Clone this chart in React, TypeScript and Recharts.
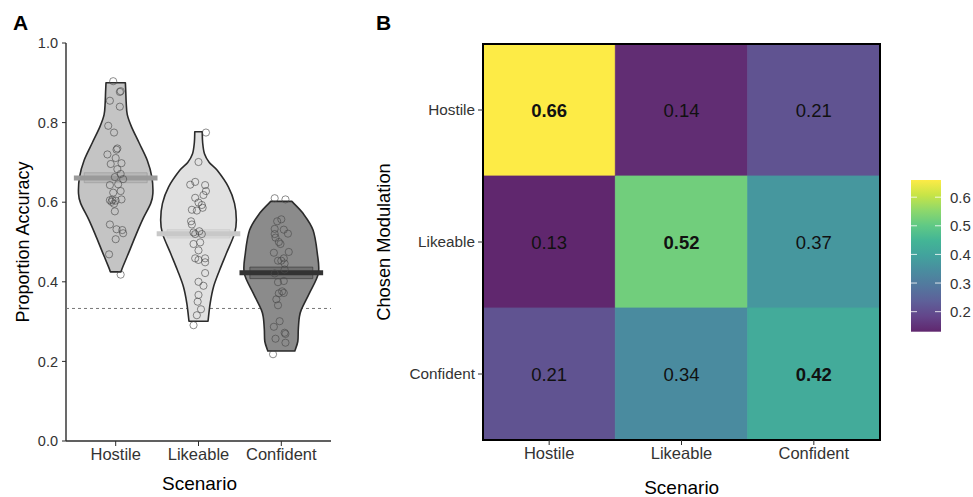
import React from "react";
import { ComposedChart, Scatter, XAxis, YAxis, ReferenceArea } from "recharts";

const scenarios = ["Hostile", "Likeable", "Confident"];
const modulations = ["Hostile", "Likeable", "Confident"];
const accuracyTicks = [0, 0.2, 0.4, 0.6, 0.8, 1.0];
const chanceLevel = 0.333;

const violinFills = ["#c4c4c4", "#e1e1e1", "#8b8b8b"];
const meanColors = ["#9a9a9a", "#c8c8c8", "#333333"];
const meanAccuracy = [0.661, 0.521, 0.423];
const ciLower = [0.649, 0.51, 0.408];
const ciUpper = [0.674, 0.531, 0.437];

// violin outlines: accuracy level -> half width (category units)
const hostileLevels = [0.425, 0.437, 0.472, 0.513, 0.555, 0.597, 0.622, 0.663, 0.705, 0.75, 0.79, 0.82, 0.85, 0.877, 0.9];
const hostileHalf = [0.064, 0.085, 0.155, 0.235, 0.322, 0.423, 0.449, 0.437, 0.382, 0.281, 0.19, 0.14, 0.127, 0.122, 0.117];
const likeableLevels = [0.301, 0.346, 0.387, 0.429, 0.471, 0.521, 0.555, 0.597, 0.638, 0.68, 0.7, 0.722, 0.75, 0.777];
const likeableHalf = [0.115, 0.141, 0.181, 0.254, 0.336, 0.435, 0.457, 0.435, 0.362, 0.226, 0.13, 0.072, 0.05, 0.045];
const confidentLevels = [0.226, 0.25, 0.28, 0.31, 0.33, 0.371, 0.421, 0.471, 0.53, 0.572, 0.602];
const confidentHalf = [0.163, 0.199, 0.205, 0.217, 0.242, 0.338, 0.447, 0.435, 0.383, 0.262, 0.127];

// participants: [jitter, accuracy]
const hostilePoints = [
  [-0.03, 0.904], [0.05, 0.877], [0.06, 0.879], [-0.07, 0.855], [0.05, 0.84], [-0.09, 0.792],
  [-0.02, 0.775], [0.01, 0.732], [0.02, 0.735], [-0.1, 0.72], [0.0, 0.711], [0.07, 0.698],
  [-0.06, 0.696], [0.02, 0.683], [0.06, 0.671], [-0.01, 0.663], [0.09, 0.658], [-0.07, 0.643],
  [0.03, 0.645], [0.06, 0.628], [-0.03, 0.624], [-0.07, 0.605], [-0.05, 0.601], [-0.04, 0.606],
  [0.0, 0.604], [0.07, 0.607], [-0.02, 0.596], [-0.01, 0.577], [-0.07, 0.544], [0.01, 0.532],
  [0.08, 0.53], [0.09, 0.522], [0.0, 0.507], [-0.08, 0.469], [0.06, 0.418],
];
const likeablePoints = [
  [0.09, 0.775], [0.0, 0.701], [-0.1, 0.644], [-0.04, 0.651], [0.08, 0.643], [0.09, 0.628],
  [0.06, 0.618], [-0.04, 0.611], [0.0, 0.599], [0.04, 0.593], [0.05, 0.586], [-0.08, 0.581],
  [-0.02, 0.579], [-0.09, 0.552], [-0.08, 0.544], [0.01, 0.527], [0.04, 0.52], [-0.04, 0.52],
  [-0.06, 0.524], [0.02, 0.499], [-0.06, 0.495], [0.0, 0.479], [-0.04, 0.459], [0.0, 0.455],
  [0.08, 0.459], [0.08, 0.449], [0.08, 0.422], [0.0, 0.4], [0.06, 0.39], [0.0, 0.367],
  [-0.01, 0.35], [0.03, 0.331], [-0.02, 0.316], [-0.06, 0.291],
];
const confidentPoints = [
  [-0.08, 0.61], [0.05, 0.607], [0.0, 0.557], [-0.05, 0.552], [-0.08, 0.533], [0.03, 0.531],
  [-0.08, 0.52], [0.08, 0.521], [-0.07, 0.511], [-0.03, 0.5], [-0.01, 0.495], [-0.09, 0.473],
  [0.09, 0.475], [0.03, 0.459], [0.0, 0.453], [-0.04, 0.453], [0.04, 0.446], [0.04, 0.431],
  [-0.08, 0.421], [0.03, 0.402], [-0.04, 0.399], [0.01, 0.376], [0.03, 0.372], [-0.03, 0.371],
  [-0.06, 0.356], [-0.04, 0.341], [-0.02, 0.301], [-0.09, 0.287], [0.04, 0.272], [0.05, 0.269],
  [-0.07, 0.257], [0.05, 0.247], [-0.1, 0.218],
];

// heatmap: rows = chosen modulation, columns = scenario
const hostileRow = [0.66, 0.14, 0.21];
const likeableRow = [0.13, 0.52, 0.37];
const confidentRow = [0.21, 0.34, 0.42];
const colorbarTicks = [0.2, 0.3, 0.4, 0.5, 0.6];
const colorMin = 0.13;
const colorMax = 0.66;

const viridisStops = ["#440154", "#482475", "#414487", "#355f8d", "#2a788e", "#21918c", "#22a884", "#44bf70", "#7ad151", "#bddf26", "#fde725"];

function hex(c: string) {
  return [1, 3, 5].map((i) => parseInt(c.slice(i, i + 2), 16));
}

function fillFor(v: number) {
  const t = Math.max(0, Math.min(1, (v - colorMin) / (colorMax - colorMin)));
  const s = t * 10;
  const i = Math.min(9, Math.floor(s));
  const f = s - i;
  const a = hex(viridisStops[i]);
  const b = hex(viridisStops[i + 1]);
  const alpha = 0.85;
  const rgb = a.map((x, k) => Math.round((x + (b[k] - x) * f) * alpha + 255 * (1 - alpha)));
  return `rgb(${rgb.join(",")})`;
}

const violins = [
  { levels: hostileLevels, half: hostileHalf, points: hostilePoints },
  { levels: likeableLevels, half: likeableHalf, points: likeablePoints },
  { levels: confidentLevels, half: confidentHalf, points: confidentPoints },
];

function outline(center: number, levels: number[], half: number[]) {
  const right = levels.map((y, i) => ({ x: center + half[i], y }));
  const left = levels.map((y, i) => ({ x: center - half[i], y })).reverse();
  return [...right, ...left];
}

type Pt = { x: number; y: number };

function smooth(pts: Pt[]) {
  let d = "";
  for (let i = 0; i < pts.length - 1; i++) {
    const p0 = pts[Math.max(0, i - 1)];
    const p1 = pts[i];
    const p2 = pts[i + 1];
    const p3 = pts[Math.min(pts.length - 1, i + 2)];
    const c1x = p1.x + (p2.x - p0.x) / 6;
    const c1y = p1.y + (p2.y - p0.y) / 6;
    const c2x = p2.x - (p3.x - p1.x) / 6;
    const c2y = p2.y - (p3.y - p1.y) / 6;
    d += ` C${c1x},${c1y} ${c2x},${c2y} ${p2.x},${p2.y}`;
  }
  return d;
}

const violinShape = (fill: string) => (props: any) => {
  const pts: Pt[] = props.points;
  const n = pts.length / 2;
  const right = pts.slice(0, n);
  const left = pts.slice(n);
  const d = `M${right[0].x},${right[0].y}${smooth(right)} L${left[0].x},${left[0].y}${smooth(left)} Z`;
  return <path d={d} fill={fill} stroke="#2b2b2b" strokeWidth={1.6} strokeLinejoin="round" />;
};

const boxShape = (color: string) => (props: any) => {
  const pts: Pt[] = props.points;
  const d = pts.map((p, i) => `${i ? "L" : "M"}${p.x},${p.y}`).join(" ") + " Z";
  return <path d={d} fill={color} fillOpacity={0.3} stroke={color} strokeOpacity={0.6} strokeWidth={1} />;
};

const noDot = () => <g />;

const ring = (props: any) => (
  <circle cx={props.cx} cy={props.cy} r={3.6} fill="none" stroke="#4a4a4a" strokeOpacity={0.7} strokeWidth={0.9} />
);

const cellText = (bold: boolean) => ({
  position: "center" as const,
  fontSize: 18.5,
  fontWeight: bold ? 700 : 400,
  fill: "#111",
});

function Title({ x, y, text, size = 19, rotate = false, bold = false }: any) {
  return (
    <div
      style={{
        position: "absolute",
        left: x,
        top: y,
        transform: `translate(-50%, -50%)${rotate ? " rotate(-90deg)" : ""}`,
        fontSize: size,
        fontWeight: bold ? 700 : 400,
        whiteSpace: "nowrap",
        lineHeight: 1,
        color: "#000",
      }}
    >
      {text}
    </div>
  );
}

function ColorBar() {
  const top = 180;
  const bottom = 331.7;
  const pos = (v: number) => bottom - ((v - colorMin) / (colorMax - colorMin)) * (bottom - top);
  const stops = viridisStops.map((_, i) => colorMin + ((colorMax - colorMin) * i) / 10);
  return (
    <svg width={973} height={497} style={{ position: "absolute", left: 0, top: 0, pointerEvents: "none" }}>
      <defs>
        <linearGradient id="vir" x1="0" y1="1" x2="0" y2="0">
          {stops.map((v, i) => (
            <stop key={i} offset={i / 10} stopColor={fillFor(v)} />
          ))}
        </linearGradient>
      </defs>
      <rect x={911} y={top} width={30} height={bottom - top} fill="url(#vir)" />
      {colorbarTicks.map((t) => (
        <g key={t}>
          <line x1={911} x2={917} y1={pos(t)} y2={pos(t)} stroke="#fff" strokeOpacity={0.8} strokeWidth={1} />
          <line x1={935} x2={941} y1={pos(t)} y2={pos(t)} stroke="#fff" strokeOpacity={0.8} strokeWidth={1} />
          <text x={950} y={pos(t)} dominantBaseline="central" fontSize={15} fill="#333">
            {t.toFixed(1)}
          </text>
        </g>
      ))}
    </svg>
  );
}

export default function App() {
  const heatRows = [hostileRow, likeableRow, confidentRow];
  const cellCenters = heatRows.flatMap((row, r) => row.map((v, c) => ({ x: c + 0.5, y: r + 0.5, v })));
  return (
    <div
      style={{
        position: "absolute",
        left: 0,
        top: 0,
        width: 973,
        height: 497,
        background: "#fff",
        fontFamily: "'Liberation Sans', Arial, sans-serif",
      }}
    >
      <div style={{ position: "absolute", left: 0, top: 0 }}>
        <ComposedChart width={340} height={497} margin={{ top: 43, right: 9, left: 30, bottom: 26 }}>
          <XAxis
            type="number"
            dataKey="x"
            domain={[0.4, 3.6]}
            ticks={[1, 2, 3]}
            interval={0}
            allowDataOverflow
            tickFormatter={(v: number) => scenarios[v - 1]}
            height={30}
            tickSize={5}
            tickMargin={2}
            tick={{ fill: "#333", fontSize: 16.5 }}
            axisLine={{ stroke: "#2b2b2b", strokeWidth: 1.4 }}
            tickLine={{ stroke: "#2b2b2b" }}
          />
          <YAxis
            type="number"
            dataKey="y"
            domain={[0, 1]}
            ticks={accuracyTicks}
            interval={0}
            allowDataOverflow
            tickFormatter={(v: number) => v.toFixed(1)}
            width={36}
            tickSize={4}
            tickMargin={4}
            tick={{ fill: "#333", fontSize: 14.5 }}
            axisLine={{ stroke: "#2b2b2b", strokeWidth: 1.4 }}
            tickLine={{ stroke: "#2b2b2b" }}
          />
          <Scatter
            data={[{ x: 0.4, y: chanceLevel }, { x: 3.6, y: chanceLevel }]}
            line={{ stroke: "#777", strokeDasharray: "3 3", strokeWidth: 1 }}
            shape={noDot}
            isAnimationActive={false}
          />
          {violins.map((v, i) => (
            <Scatter
              key={`v${i}`}
              data={outline(i + 1, v.levels, v.half)}
              line={violinShape(violinFills[i])}
              shape={noDot}
              isAnimationActive={false}
            />
          ))}
          {violins.map((_, i) => (
            <Scatter
              key={`ci${i}`}
              data={[
                { x: i + 1 - 0.38, y: ciLower[i] },
                { x: i + 1 + 0.38, y: ciLower[i] },
                { x: i + 1 + 0.38, y: ciUpper[i] },
                { x: i + 1 - 0.38, y: ciUpper[i] },
              ]}
              line={boxShape(meanColors[i])}
              shape={noDot}
              isAnimationActive={false}
            />
          ))}
          {violins.map((_, i) => (
            <Scatter
              key={`m${i}`}
              data={[{ x: i + 1 - 0.505, y: meanAccuracy[i] }, { x: i + 1 + 0.505, y: meanAccuracy[i] }]}
              line={{ stroke: meanColors[i], strokeWidth: 5 }}
              shape={noDot}
              isAnimationActive={false}
            />
          ))}
          {violins.map((v, i) => (
            <Scatter
              key={`p${i}`}
              data={v.points.map(([dx, y]) => ({ x: i + 1 + dx, y }))}
              shape={ring}
              isAnimationActive={false}
            />
          ))}
        </ComposedChart>
      </div>

      <div style={{ position: "absolute", left: 340, top: 0 }}>
        <ComposedChart width={560} height={497} margin={{ top: 44, right: 20, left: 53, bottom: 27 }}>
          <XAxis
            type="number"
            dataKey="x"
            domain={[0, 3]}
            ticks={[0.5, 1.5, 2.5]}
            interval={0}
            allowDataOverflow
            tickFormatter={(v: number) => scenarios[Math.floor(v)]}
            height={30}
            tickSize={5}
            tickMargin={2}
            tick={{ fill: "#333", fontSize: 16.5 }}
            axisLine={false}
            tickLine={{ stroke: "#2b2b2b" }}
          />
          <YAxis
            type="number"
            dataKey="y"
            domain={[0, 3]}
            reversed
            ticks={[0.5, 1.5, 2.5]}
            interval={0}
            allowDataOverflow
            tickFormatter={(v: number) => modulations[Math.floor(v)]}
            width={90}
            tickSize={5}
            tickMargin={3}
            tick={{ fill: "#333", fontSize: 15.3 }}
            axisLine={false}
            tickLine={{ stroke: "#2b2b2b" }}
          />
          {cellCenters.map((c) => (
            <ReferenceArea
              key={`${c.x}-${c.y}`}
              x1={c.x - 0.5}
              x2={c.x + 0.5}
              y1={c.y - 0.5}
              y2={c.y + 0.5}
              fill={fillFor(c.v)}
              fillOpacity={1}
              stroke={fillFor(c.v)}
              strokeWidth={0.8}
              label={{ value: c.v.toFixed(2), ...cellText(c.x === c.y) }}
            />
          ))}
          <Scatter data={cellCenters} shape={noDot} isAnimationActive={false} />
          <ReferenceArea x1={0} x2={3} y1={0} y2={3} fill="none" fillOpacity={0} stroke="#000" strokeWidth={2} />
        </ComposedChart>
      </div>

      <ColorBar />

      <Title x={20.5} y={21.7} text="A" size={21} bold />
      <Title x={383.5} y={21.7} text="B" size={21} bold />
      <Title x={22.5} y={242} text="Proportion Accuracy" size={18} rotate />
      <Title x={199.5} y={483} text="Scenario" size={19} />
      <Title x={383.7} y={241.5} text="Chosen Modulation" size={18.3} rotate />
      <Title x={681.7} y={487} text="Scenario" size={19} />
    </div>
  );
}
